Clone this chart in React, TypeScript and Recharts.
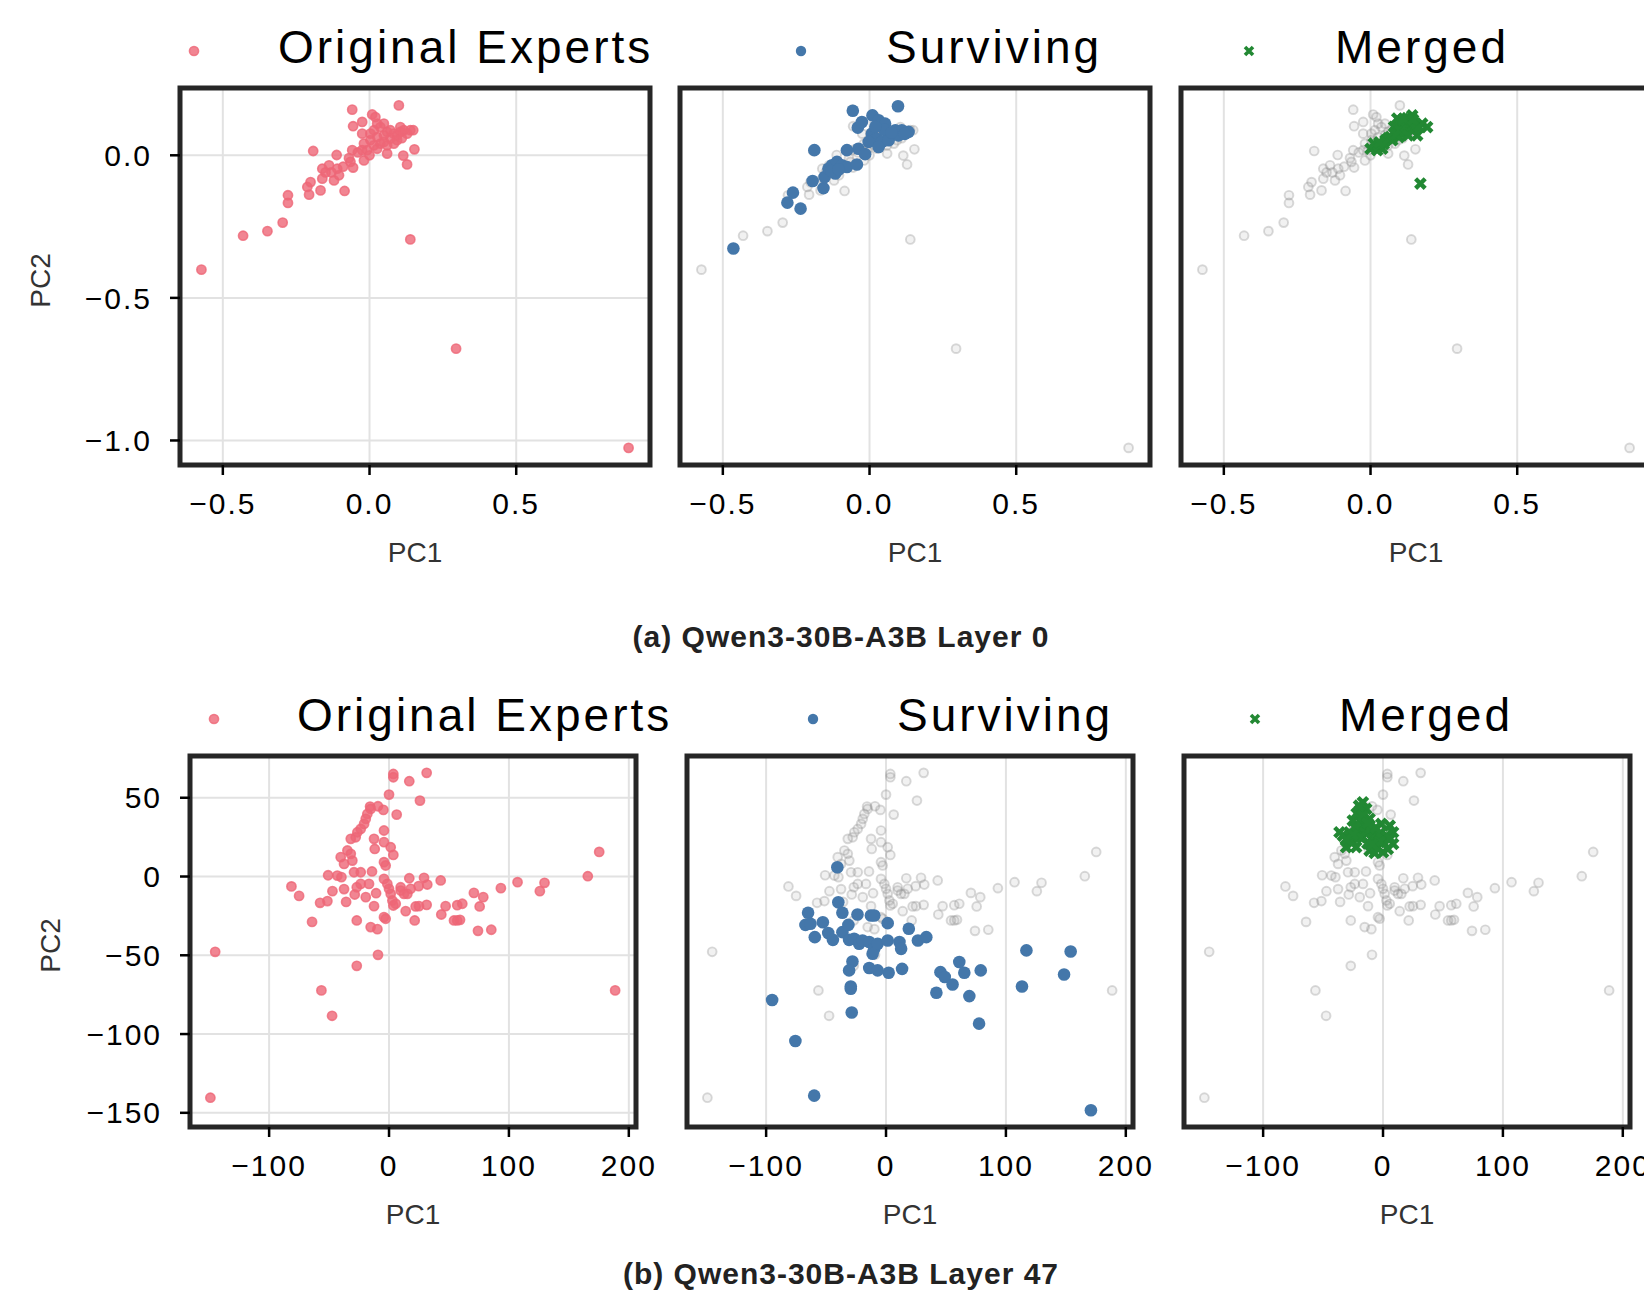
import React from 'react';
import { ScatterChart, Scatter, XAxis, YAxis, CartesianGrid, ReferenceArea } from 'recharts';

type Pt = [number, number];

const FONT = '"Liberation Sans", Arial, Helvetica, sans-serif';

// ---- Layer 0 (PC1, PC2) ----
const layer0Original: Pt[] = [
  [-0.573, -0.401], [-0.431, -0.282], [-0.348, -0.266], [-0.296, -0.236], [-0.278, -0.167],
  [-0.278, -0.14], [-0.206, -0.138], [-0.212, -0.111], [-0.201, -0.094], [-0.167, -0.123],
  [-0.161, -0.082], [-0.161, -0.047], [-0.138, -0.035], [-0.121, -0.088], [-0.104, -0.07],
  [-0.11, -0.047], [-0.085, -0.125], [-0.192, 0.015], [-0.112, 0.001], [-0.065, -0.023],
  [-0.056, -0.043], [-0.059, 0.018], [-0.019, -0.018], [-0.025, 0.018], [-0.059, 0.16],
  [0.1, 0.175], [0.009, 0.143], [0.02, 0.134], [-0.025, 0.117], [-0.056, 0.102],
  [-0.025, 0.076], [0.049, 0.111], [0.105, 0.099], [0.149, 0.088], [0.128, 0.076],
  [0.153, 0.021], [0.115, -0.001], [0.128, -0.032], [0.139, -0.295], [0.295, -0.678],
  [0.883, -1.026], [-0.008, 0.018], [0.003, 0.053], [0.015, 0.088], [0.026, 0.064],
  [0.037, 0.041], [0.049, 0.07], [0.06, 0.082], [0.071, 0.058], [0.083, 0.076],
  [0.094, 0.07], [0.105, 0.082], [0.117, 0.088], [0.139, 0.088], [0.015, 0.035],
  [0.026, 0.023], [0.06, 0.006], [0.037, 0.099], [0.049, 0.047], [0.071, 0.088],
  [0.094, 0.053], [0.003, 0.076], [0.083, 0.041], [-0.019, 0.041], [0.026, 0.111],
  [0.06, 0.035], [0.11, 0.06], [0.0, 0.0], [-0.04, 0.01], [-0.13, -0.06],
  [-0.09, -0.04], [-0.15, -0.06], [-0.07, -0.01],
];

const layer0Surviving: Pt[] = [
  [-0.464, -0.327], [-0.28, -0.166], [-0.261, -0.131], [-0.235, -0.187], [-0.194, -0.09],
  [-0.157, -0.115], [-0.153, -0.076], [-0.14, -0.047], [-0.128, -0.035], [-0.111, -0.023],
  [-0.117, -0.064], [-0.094, -0.035], [-0.077, -0.041], [-0.043, -0.032], [-0.188, 0.018],
  [-0.077, 0.018], [-0.038, 0.023], [-0.015, 0.004], [-0.057, 0.156], [0.097, 0.172],
  [-0.04, 0.097], [-0.026, 0.117], [0.01, 0.14], [0.031, 0.123], [0.053, 0.111],
  [0.008, 0.076], [0.025, 0.058], [0.042, 0.047], [0.065, 0.07], [0.088, 0.088],
  [0.11, 0.088], [0.133, 0.082], [-0.003, 0.047], [0.031, 0.029], [0.065, 0.053],
  [0.099, 0.07], [0.05, 0.09], [0.02, 0.1], [0.12, 0.075], [-0.13, -0.055],
  [-0.105, -0.05], [0.075, 0.08],
];

const layer0Merged: Pt[] = [
  [0.17, -0.099], [0.0, 0.023], [0.023, 0.018], [0.04, 0.023], [0.011, 0.041],
  [0.028, 0.035], [0.051, 0.053], [0.068, 0.064], [0.085, 0.082], [0.097, 0.099],
  [0.091, 0.129], [0.114, 0.117], [0.142, 0.14], [0.153, 0.111], [0.176, 0.111],
  [0.193, 0.099], [0.159, 0.07], [0.119, 0.082], [0.131, 0.099], [0.097, 0.064],
  [0.074, 0.053], [0.108, 0.076], [0.125, 0.13], [0.14, 0.09], [0.08, 0.1],
  [0.105, 0.105], [0.06, 0.06], [0.087, 0.073], [0.1, 0.088], [0.12, 0.1],
  [0.135, 0.115], [0.15, 0.095], [0.165, 0.1], [0.112, 0.127], [0.045, 0.04],
  [0.03, 0.045], [0.128, 0.07], [0.145, 0.125],
];

// ---- Layer 47 ----
const layer47Original: Pt[] = [
  [-149, -140.4], [-145, -47.8], [-56.4, -72.3], [-47.5, -88.4], [-26.9, -56.7],
  [-9.2, -49.7], [188.6, -72.3], [175.3, 15.6], [165.8, 0.2], [3.6, 65.1],
  [3.6, 63], [31.4, 65.8], [16.9, 60.5], [0, 52], [25.8, 48.2],
  [6.4, 39.3], [-15.8, 44.4], [-15.3, 42.9], [-18.1, 39.7], [-19.4, 36.6],
  [-20.8, 33.4], [-23.6, 30.2], [-26.4, 28.1], [-27.8, 24.9], [-9.2, 44.6],
  [-4.7, 42.3], [-4.2, 29.2], [-31.9, 23.9], [-12.5, 23.9], [-11.9, 17.5],
  [-4.2, 21.8], [1.4, 18.6], [3.6, 13.7], [-4.2, 9.1], [-2.8, 7],
  [-34.7, 16.5], [-31.9, 14.4], [-40.3, 12.3], [-37.5, 8], [-30.6, 10.1],
  [-50.8, 0.8], [-43.1, 0.6], [-39.7, -0.4], [-29.2, 2.7], [-23.6, 2.7],
  [-14.2, 3.2], [-16.7, -4.7], [-23.6, -4.7], [-37.5, -8], [-47.2, -9.3],
  [-81.4, -6.3], [-75, -12.3], [-57.5, -16.7], [-51.4, -15.6], [-64.2, -28.8],
  [-35.8, -16.1], [-28.6, -11.4], [-26.9, -6.8], [-19.4, -13.1], [-12.5, -18.8],
  [-10.8, -10.6], [-26.9, -27.9], [-15.3, -32.1], [-9.7, -33.4], [-4.2, -25.8],
  [-2.8, -26.8], [-4.2, -1.5], [-1.4, -4.7], [0, -7.8], [1.4, -11],
  [2.8, -15.2], [3.6, -18.4], [5.6, -17.3], [9.7, -6.8], [12.5, -11],
  [15.3, -11], [18.1, -7.8], [9.7, -8.9], [16.9, -1.1], [24.7, -6.1],
  [29.2, -0.8], [31.9, -5.1], [43.1, -2.5], [13.9, -22], [21.4, -27.9],
  [22.2, -19], [25, -18.8], [31.4, -18], [43.6, -24.1], [47.2, -18.8],
  [56.9, -18.2], [61.1, -17.3], [54.2, -27.9], [56.9, -27.9], [59.2, -27.5],
  [70.8, -10.4], [78.6, -13.1], [75.6, -19], [74.2, -34.5], [85.3, -33.8],
  [93.3, -7.4], [107.2, -3.6], [125.8, -9.3], [129.7, -4],
];

const layer47Surviving: Pt[] = [
  [-40.6, 5.9], [-39.8, -16.3], [-36.4, -23], [-65, -23], [-67.2, -30.7],
  [-63, -30], [-52.7, -29], [-59.4, -38.5], [-48.2, -35.9], [-44.3, -40.2],
  [-36.4, -35.3], [-31.4, -30.7], [-30.8, -40.2], [-26.6, -39.5], [-22.4, -42.7],
  [-19.6, -40.6], [-14, -41.6], [-9.8, -45.9], [-11.2, -49], [-7, -42.7],
  [-12.6, -24.7], [-9.8, -24.7], [-23.8, -24.1], [1.4, -29.6], [1.4, -40.6],
  [11.2, -41.6], [12.6, -45.9], [19, -33.2], [26.6, -40.6], [33.6, -38.5],
  [-28, -53.9], [-30.8, -59.6], [-14, -58.1], [-7, -59.6], [2.2, -61.1],
  [13.4, -58.6], [-29.4, -69.8], [-29.4, -71.2], [-28.6, -86.3], [-95, -78.4],
  [-75.6, -104.4], [-59.9, -139.1], [45.4, -60.7], [49, -63.8], [55.5, -68.5],
  [61.1, -54.3], [65.3, -61.1], [42, -73.8], [69.5, -75.9], [79, -59.6],
  [77.6, -93.4], [117.1, -46.9], [113.4, -69.8], [148.5, -62.2], [154, -47.6],
  [170.9, -148.4],
];

const layer47Merged: Pt[] = [
  [-16.8, 47.1], [-19.6, 41.9], [-14, 42.9], [-25.2, 35.5], [-19.6, 35.5],
  [-11.2, 36.6], [-28, 28.1], [-33.5, 26], [-30.8, 18.6], [-25.2, 21.8],
  [-16.8, 24.9], [-8.4, 27.1], [-1.4, 33.4], [5.6, 32.3], [8.4, 28.1],
  [8.4, 20.7], [0, 21.8], [-5.6, 18.6], [-11.2, 16.5], [0, 15.4],
  [-8.4, 24.9], [-22.4, 18.6], [-14, 31.3], [-19.6, 30.2], [-2.8, 27.1],
  [2.8, 26], [-28, 22.8], [-36.3, 28.1], [-22, 40], [-17, 38.5],
  [-23, 31], [-15, 28], [-11, 30.5], [-6, 31], [-3, 22],
  [-19, 25], [-25, 26.5], [-13, 21], [-7, 15], [4, 17.5],
  [6, 24], [-31, 23.5], [-20, 45], [-13, 34], [-9, 20.5],
];

const ticks0X = [-0.5, 0, 0.5];
const ticks0Y = [-1, -0.5, 0];
const ticks47X = [-100, 0, 100, 200];
const ticks47Y = [-150, -100, -50, 0, 50];

const legendLabels = ['Original Experts', 'Surviving', 'Merged'];
const captions = ['(a) Qwen3-30B-A3B Layer 0', '(b) Qwen3-30B-A3B Layer 47'];

const RED = '#EE6677';
const BLUE = '#4477AA';
const GREEN = '#228833';
const GRAY = '#8c8c8c';

const redDot = (p: any) => (
  <circle cx={p.cx} cy={p.cy} r={4.6} fill={RED} fillOpacity={0.8} stroke={RED} strokeOpacity={0.8} strokeWidth={1.6} />
);
const grayDot = (p: any) => (
  <circle cx={p.cx} cy={p.cy} r={4.4} fill={GRAY} fillOpacity={0.12} stroke={GRAY} strokeOpacity={0.32} strokeWidth={1.9} />
);
const blueDot = (p: any) => <circle cx={p.cx} cy={p.cy} r={6.3} fill={BLUE} />;
const greenX = (p: any) => (
  <path
    d={`M${p.cx - 4.8},${p.cy - 4.8}L${p.cx + 4.8},${p.cy + 4.8}M${p.cx - 4.8},${p.cy + 4.8}L${p.cx + 4.8},${p.cy - 4.8}`}
    stroke={GREEN}
    strokeWidth={4.4}
  />
);

const fmt0 = (v: number) => (v < 0 ? '\u2212' : '') + Math.abs(v).toFixed(1);
const fmt47 = (v: number) => (v < 0 ? '\u2212' : '') + Math.abs(v);

const toRows = (pts: Pt[]) => pts.map(([x, y]) => ({ x, y }));

interface LayerDef {
  data: Pt[];
  shape: (p: any) => React.ReactElement;
}

interface PanelProps {
  left: number;
  top: number;
  plotW: number;
  plotH: number;
  showY: boolean;
  xDomain: [number, number];
  yDomain: [number, number];
  xTicks: number[];
  yTicks: number[];
  fmt: (v: number) => string;
  layers: LayerDef[];
}

function Panel({ left, top, plotW, plotH, showY, xDomain, yDomain, xTicks, yTicks, fmt, layers }: PanelProps) {
  const chartLeft = showY ? 0 : left - 10;
  const yw = left - chartLeft;
  const rightPad = 44;
  const width = yw + plotW + rightPad;
  const height = 10 + plotH + 110;
  const tickText = { fill: '#000', fontSize: 30, letterSpacing: 2 };
  return (
    <div style={{ position: 'absolute', left: chartLeft, top: top - 10 }}>
      <ScatterChart width={width} height={height} margin={{ top: 10, right: rightPad, bottom: 0, left: 0 }}>
        <CartesianGrid stroke="#e2e2e2" strokeWidth={2} />
        <XAxis
          type="number"
          dataKey="x"
          domain={xDomain}
          ticks={xTicks}
          allowDataOverflow
          height={110}
          axisLine={false}
          tickSize={10}
          tickMargin={18}
          tickLine={{ stroke: '#000', strokeWidth: 2.5 }}
          tick={tickText}
          tickFormatter={fmt}
          label={{
            content: (lp: any) => (
              <text
                x={lp.viewBox.x + lp.viewBox.width / 2}
                y={lp.viewBox.y + 87}
                textAnchor="middle"
                dominantBaseline="central"
                fontSize={28}
                fill="#333"
              >
                PC1
              </text>
            ),
          }}
        />
        <YAxis
          type="number"
          dataKey="y"
          domain={yDomain}
          ticks={yTicks}
          allowDataOverflow
          width={yw}
          axisLine={false}
          tickSize={showY ? 10 : 0}
          tickMargin={18}
          tickLine={showY ? { stroke: '#000', strokeWidth: 2.5 } : false}
          tick={showY ? tickText : false}
          tickFormatter={fmt}
          label={
            showY
              ? {
                  content: (lp: any) => {
                    const cx = lp.viewBox.x + lp.viewBox.width - 140;
                    const cy = lp.viewBox.y + lp.viewBox.height / 2 + 4;
                    return (
                      <text
                        x={cx}
                        y={cy}
                        textAnchor="middle"
                        dominantBaseline="central"
                        fontSize={28}
                        fill="#333"
                        transform={`rotate(-90 ${cx} ${cy})`}
                      >
                        PC2
                      </text>
                    );
                  },
                }
              : undefined
          }
        />
        {layers.map((l, i) => (
          <Scatter key={i} data={toRows(l.data)} shape={l.shape} isAnimationActive={false} />
        ))}
        <ReferenceArea
          x1={xDomain[0]}
          x2={xDomain[1]}
          y1={yDomain[0]}
          y2={yDomain[1]}
          fill="none"
          fillOpacity={0}
          stroke="#262626"
          strokeWidth={5}
          ifOverflow="visible"
        />
      </ScatterChart>
    </div>
  );
}

function LegendEntry({ x, markerX, y, markerY, kind, label }: { x: number; markerX: number; y: number; markerY: number; kind: number; label: string }) {
  return (
    <>
      <svg style={{ position: 'absolute', left: markerX - 8, top: markerY - 8 }} width={16} height={16}>
        {kind === 0 && <circle cx={8} cy={8} r={4.6} fill={RED} fillOpacity={0.8} stroke={RED} strokeOpacity={0.8} strokeWidth={1.5} />}
        {kind === 1 && <circle cx={8} cy={8} r={5.2} fill={BLUE} />}
        {kind === 2 && <path d="M4,4L12,12M4,12L12,4" stroke={GREEN} strokeWidth={3.6} />}
      </svg>
      <div
        style={{
          position: 'absolute',
          left: x,
          top: y - 28,
          height: 56,
          lineHeight: '56px',
          fontSize: 46,
          letterSpacing: 3,
          color: '#000',
          whiteSpace: 'nowrap',
        }}
      >
        {label}
      </div>
    </>
  );
}

export default function App() {
  const topRow = { top: 87.5, plotW: 470, plotH: 377, lefts: [180, 680, 1181] };
  const botRow = { top: 755.5, plotW: 446, plotH: 371, lefts: [190, 687, 1184] };
  const dom0X: [number, number] = [-0.646, 0.956];
  const dom0Y: [number, number] = [-1.086, 0.236];
  const dom47X: [number, number] = [-166, 206];
  const dom47Y: [number, number] = [-159, 76.5];

  const layers0: LayerDef[][] = [
    [{ data: layer0Original, shape: redDot }],
    [{ data: layer0Original, shape: grayDot }, { data: layer0Surviving, shape: blueDot }],
    [{ data: layer0Original, shape: grayDot }, { data: layer0Merged, shape: greenX }],
  ];
  const layers47: LayerDef[][] = [
    [{ data: layer47Original, shape: redDot }],
    [{ data: layer47Original, shape: grayDot }, { data: layer47Surviving, shape: blueDot }],
    [{ data: layer47Original, shape: grayDot }, { data: layer47Merged, shape: greenX }],
  ];

  const legend0 = [
    { markerX: 194, x: 278 },
    { markerX: 801, x: 886 },
    { markerX: 1249, x: 1335 },
  ];
  const legend47 = [
    { markerX: 214, x: 297 },
    { markerX: 813, x: 897 },
    { markerX: 1255, x: 1339 },
  ];

  const captionStyle = (cy: number): React.CSSProperties => ({
    position: 'absolute',
    left: 441,
    width: 800,
    top: cy - 20,
    height: 40,
    lineHeight: '40px',
    textAlign: 'center',
    fontWeight: 'bold',
    fontSize: 30,
    letterSpacing: 1,
    color: '#222',
  });

  return (
    <div
      style={{
        position: 'absolute',
        left: 0,
        top: 0,
        width: 1644,
        height: 1291,
        overflow: 'hidden',
        background: '#fff',
        fontFamily: FONT,
      }}
    >
      {legend0.map((l, i) => (
        <LegendEntry key={'a' + i} x={l.x} markerX={l.markerX} y={47} markerY={51} kind={i} label={legendLabels[i]} />
      ))}
      {topRow.lefts.map((lf, i) => (
        <Panel
          key={'t' + i}
          left={lf}
          top={topRow.top}
          plotW={topRow.plotW}
          plotH={topRow.plotH}
          showY={i === 0}
          xDomain={dom0X}
          yDomain={dom0Y}
          xTicks={ticks0X}
          yTicks={ticks0Y}
          fmt={fmt0}
          layers={layers0[i]}
        />
      ))}
      <div style={captionStyle(637)}>{captions[0]}</div>

      {legend47.map((l, i) => (
        <LegendEntry key={'b' + i} x={l.x} markerX={l.markerX} y={715} markerY={719} kind={i} label={legendLabels[i]} />
      ))}
      {botRow.lefts.map((lf, i) => (
        <Panel
          key={'b' + i}
          left={lf}
          top={botRow.top}
          plotW={botRow.plotW}
          plotH={botRow.plotH}
          showY={i === 0}
          xDomain={dom47X}
          yDomain={dom47Y}
          xTicks={ticks47X}
          yTicks={ticks47Y}
          fmt={fmt47}
          layers={layers47[i]}
        />
      ))}
      <div style={captionStyle(1274)}>{captions[1]}</div>
    </div>
  );
}
